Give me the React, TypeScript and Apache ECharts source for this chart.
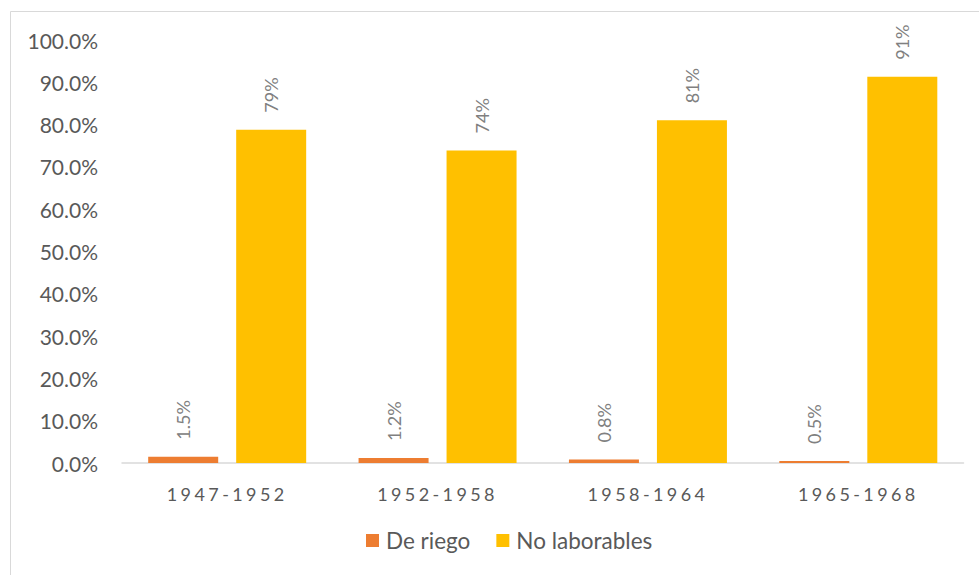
import React, { useEffect, useRef } from "react";
import * as echarts from "echarts";

const categories = ["1947-1952", "1952-1958", "1958-1964", "1965-1968"];
const deRiego = [1.5, 1.2, 0.8, 0.5];
const noLaborables = [78.8, 73.9, 81.0, 91.3];
const seriesNames = ["De riego", "No laborables"];

const FONT = "Lato, 'Open Sans', sans-serif";

export default function App() {
  const ref = useRef<HTMLDivElement>(null);
  useEffect(() => {
    if (!ref.current) return;
    const el = ref.current;
    const chart = echarts.init(el, null, { renderer: "svg" });
    const applySpacing = () => {
      el.querySelectorAll("text").forEach((t) => {
        if (categories.includes((t.textContent || "").trim())) {
          t.setAttribute("letter-spacing", "3.4");
        }
      });
    };
    chart.on("finished", applySpacing);
    chart.setOption({
      animation: false,
      textStyle: { fontFamily: FONT },
      grid: { left: 122, right: 15.5, top: 40, bottom: 112, containLabel: false },
      graphic: [
        {
          type: "rect",
          shape: { x: 10.5, y: 11.5, width: 1000, height: 600 },
          style: { fill: "none", stroke: "#d9d9d9", lineWidth: 1 },
          silent: true,
          z: -1,
        },
      ],
      legend: {
        bottom: 18,
        left: 361,
        itemWidth: 13,
        itemHeight: 13,
        itemGap: 26,
        icon: "rect",
        textStyle: { fontFamily: FONT, fontSize: 22.5, color: "#595959", padding: [0, 0, 0, 2] },
        data: seriesNames,
      },
      xAxis: {
        type: "category",
        data: categories,
        axisLine: { lineStyle: { color: "#d9d9d9", width: 1.5 } },
        axisTick: { show: false },
        axisLabel: { fontFamily: FONT, fontSize: 18, color: "#595959", margin: 22 },
      },
      yAxis: {
        type: "value",
        min: 0,
        max: 100,
        interval: 10,
        axisLine: { show: false },
        axisTick: { show: false },
        splitLine: { show: false },
        axisLabel: {
          fontFamily: FONT,
          fontSize: 21,
          color: "#595959",
          margin: 24,
          formatter: (v: number) => v.toFixed(1) + "%",
        },
      },
      series: [
        {
          name: seriesNames[0],
          type: "bar",
          data: deRiego,
          barWidth: 70,
          barGap: "25.7%",
          itemStyle: { color: "#ED7D31" },
          label: {
            show: true,
            position: "top",
            rotate: 90,
            align: "left",
            verticalAlign: "middle",
            distance: 17,
            fontFamily: FONT,
            fontSize: 18,
            color: "#808080",
            formatter: (p: any) => Number(p.value).toFixed(1) + "%",
          },
        },
        {
          name: seriesNames[1],
          type: "bar",
          data: noLaborables,
          barWidth: 70,
          itemStyle: { color: "#FFC000" },
          label: {
            show: true,
            position: "top",
            rotate: 90,
            align: "left",
            verticalAlign: "middle",
            distance: 17,
            fontFamily: FONT,
            fontSize: 18,
            color: "#808080",
            formatter: (p: any) => Math.round(Number(p.value)) + "%",
          },
        },
      ],
    });
    applySpacing();
    const t = setTimeout(applySpacing, 50);
    return () => {
      clearTimeout(t);
      chart.dispose();
    };
  }, []);
  return (
    <div
      ref={ref}
      style={{ position: "absolute", left: 0, top: 0, width: 979, height: 575, background: "#fff" }}
    />
  );
}
